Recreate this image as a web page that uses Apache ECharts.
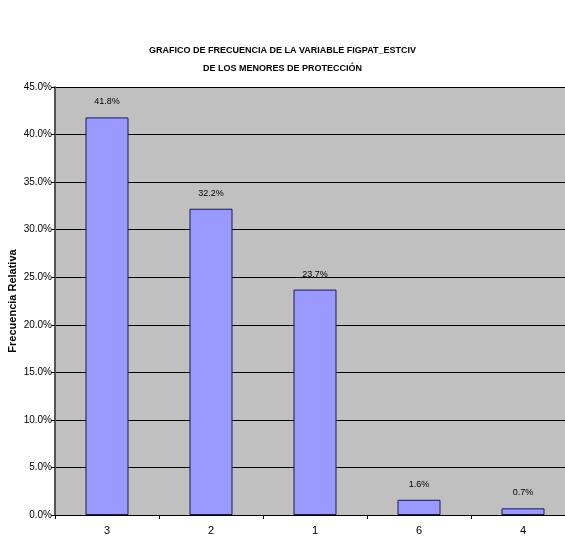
<!DOCTYPE html>
<html>
<head>
<meta charset="utf-8">
<script src="https://cdn.jsdelivr.net/npm/echarts@6/dist/echarts.min.js"></script>
<style>
  html, body { margin: 0; padding: 0; background: #fff; }
  #chart { width: 565px; height: 538px; }
</style>
</head>
<body>
<div id="chart"></div>
<script>
// categorias de FIGPAT_ESTCIV y su frecuencia relativa (%)
const categories = ['3', '2', '1', '6', '4'];
const relFreq = [41.8, 32.2, 23.7, 1.6, 0.7];
const yTicks = [0, 5, 10, 15, 20, 25, 30, 35, 40, 45];

const font = '"Liberation Sans", Arial, sans-serif';

const myChart = echarts.init(document.getElementById('chart'));

const option = {
    backgroundColor: '#ffffff',
    animation: false,
    title: {
        text: 'GRAFICO DE FRECUENCIA DE LA VARIABLE FIGPAT_ESTCIV\nDE LOS MENORES DE PROTECCIÓN',
        left: 'center',
        top: 37,
        textStyle: {
            fontFamily: font,
            fontSize: 9,
            fontWeight: 'bold',
            color: '#000',
            lineHeight: 18,
        },
    },
    grid: {
        left: 55,
        right: -10,
        top: 87,
        bottom: 23,
        containLabel: false,
        outerBoundsMode: 'none',
        show: true,
        backgroundColor: '#c0c0c0',
        borderWidth: 0,
    },
    xAxis: {
        type: 'category',
        data: categories,
        axisLine: { lineStyle: { color: '#000', width: 1 } },
        axisTick: { show: true, length: 4, inside: false, lineStyle: { color: '#000' } },
        axisLabel: { fontFamily: font, fontSize: 11, color: '#000', margin: 10 },
    },
    yAxis: {
        type: 'value',
        min: yTicks[0],
        max: yTicks[yTicks.length - 1],
        interval: 5,
        name: 'Frecuencia Relativa',
        nameLocation: 'middle',
        nameGap: 37,
        nameMoveOverlap: false,
        nameTextStyle: {
            fontFamily: font,
            fontSize: 11,
            fontWeight: 'bold',
            color: '#000',
        },
        axisLine: { show: true, lineStyle: { color: '#555', width: 2 } },
        axisTick: { show: true, length: 4, lineStyle: { color: '#000' } },
        axisLabel: {
            fontFamily: font,
            fontSize: 10,
            color: '#000',
            margin: 3,
            formatter: (v) => v.toFixed(1) + '%',
        },
        splitLine: { show: true, lineStyle: { color: '#000', width: 1 } },
    },
    series: [
        {
            type: 'bar',
            data: relFreq,
            barWidth: 43,
            itemStyle: {
                color: '#9999ff',
                borderColor: '#1a1a4d',
                borderWidth: 1,
            },
            label: {
                show: true,
                position: 'top',
                distance: 11,
                fontFamily: font,
                fontSize: 9,
                color: '#000',
                formatter: (p) => p.value.toFixed(1) + '%',
            },
        },
    ],
};

myChart.setOption(option);
</script>
</body>
</html>
